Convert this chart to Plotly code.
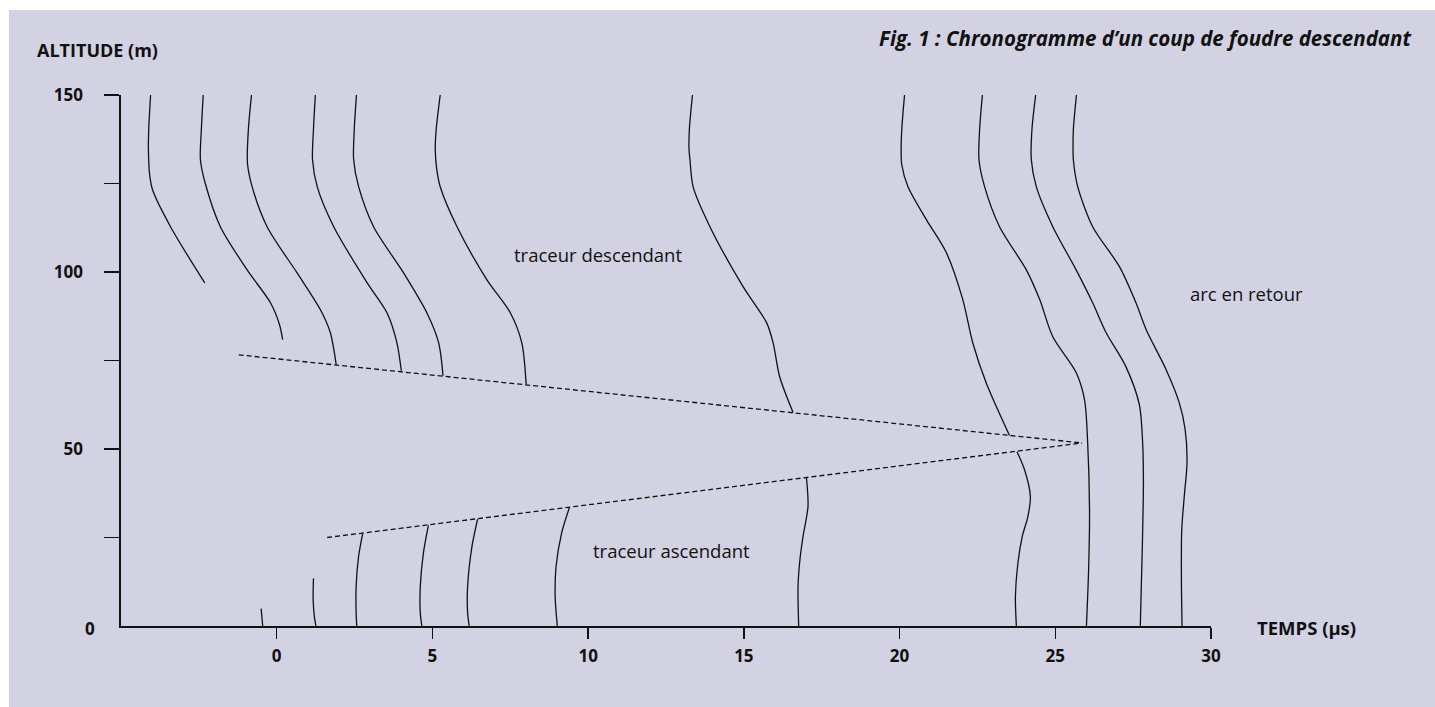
import plotly.graph_objects as go

# ---------------- data (time in µs, altitude in m) ----------------
# downward leader steps (traceur descendant)
d1_t = [-4.05, -4.11, -4.12, -4.08, -3.99, -3.41, -2.31]
d1_h = [150, 140.2, 134.6, 127.5, 123.3, 112.8, 96.9]
d2_t = [-2.36, -2.42, -2.45, -2.30, -1.81, -0.95, -0.20, 0.09, 0.19]
d2_h = [150, 140.2, 131.7, 125.2, 112.8, 100.6, 91.3, 85.1, 80.9]
d3_t = [-0.81, -0.91, -0.94, -0.79, -0.31, 0.65, 1.40, 1.72, 1.91]
d3_h = [150, 140.2, 130.8, 124.1, 112.8, 99.8, 89.4, 82.9, 73.8]
d4_t = [1.24, 1.18, 1.15, 1.30, 1.83, 2.90, 3.54, 3.86, 4.00]
d4_h = [150, 140.2, 131.7, 124.1, 112.8, 97.0, 88.5, 80.0, 72.1]
d5_t = [2.56, 2.49, 2.47, 2.63, 3.11, 4.07, 4.82, 5.20, 5.34]
d5_h = [150, 140.2, 131.7, 124.1, 112.8, 99.8, 88.5, 80.0, 70.7]
d6_t = [5.25, 5.12, 5.09, 5.14, 5.25, 5.79, 6.75, 7.50, 7.87, 8.01]
d6_h = [150, 140.2, 134.6, 128.9, 124.1, 112.8, 97.8, 88.5, 80.0, 68.2]
d7_t = [13.35, 13.25, 13.24, 13.27, 13.37, 13.91, 14.98, 15.73, 15.94, 16.15, 16.58]
d7_h = [150, 140.2, 134.6, 131.7, 124.1, 112.8, 95.8, 85.7, 80.0, 70.4, 60.3]
d8_t = [20.16, 20.07, 20.05, 20.07, 20.27, 20.86, 21.50, 22.03, 22.35, 22.78, 23.53]
d8_h = [150, 140.2, 134.6, 130.3, 124.1, 114.8, 105.5, 92.2, 80.0, 68.7, 53.8]

# return strokes (arc en retour)
r1_t = [22.66, 22.57, 22.55, 22.73, 23.21, 24.07, 24.50, 24.92, 25.67, 25.94, 26.04, 26.10, 26.07, 26.00]
r1_h = [150, 140.2, 131.7, 124.1, 112.8, 100.6, 92.2, 81.7, 71.6, 63.9, 51.8, 32.0, 15.9, 0]
r2_t = [24.37, 24.25, 24.23, 24.39, 24.92, 25.67, 26.20, 26.63, 27.27, 27.70, 27.80, 27.83, 27.80, 27.73]
r2_h = [150, 140.2, 131.7, 124.1, 112.8, 100.6, 91.3, 82.9, 73.2, 62.5, 52.6, 41.3, 24.4, 0]
r3_t = [25.68, 25.58, 25.57, 25.58, 25.72, 26.20, 27.06, 27.59, 27.92, 28.56, 28.98, 29.17, 29.23,
        29.14, 29.06, 29.05, 29.07]
r3_h = [150, 140.2, 134.6, 131.7, 124.1, 112.8, 101.5, 91.3, 83.7, 72.4, 63.1, 55.5, 46.1,
        36.5, 27.2, 13.1, 0]

# upward leader steps (traceur ascendant)
u1_t = [-0.50, -0.45]
u1_h = [4.9, 0]
u2_t = [1.18, 1.17, 1.21, 1.26]
u2_h = [13.4, 7.4, 2.6, 0]
u3_t = [2.76, 2.63, 2.55, 2.55, 2.57]
u3_h = [26.1, 19.7, 11.2, 3.7, 0]
u4_t = [4.87, 4.71, 4.61, 4.61, 4.66]
u4_h = [28.4, 20.6, 11.2, 3.7, 0]
u5_t = [6.45, 6.27, 6.13, 6.13, 6.18]
u5_h = [30.2, 22.5, 11.2, 3.7, 0]
u6_t = [9.40, 9.15, 8.97, 8.94, 9.01]
u6_h = [33.5, 26.3, 16.8, 8.4, 0]
u7_t = [17.01, 17.06, 16.90, 16.80, 16.74, 16.76]
u7_h = [41.8, 33.8, 25.3, 18.7, 11.2, 0]
u8_t = [23.77, 24.01, 24.20, 24.12, 23.94, 23.80, 23.72, 23.75]
u8_h = [49.2, 44.2, 36.6, 30.9, 25.3, 17.8, 8.4, 0]

# dashed envelopes
env_down_t = [-1.22, 25.86]
env_down_h = [76.6, 51.7]
env_up_t = [1.62, 25.86]
env_up_h = [25.0, 51.7]

x_tickvals = [0, 5, 10, 15, 20, 25, 30]
y_tickvals = [25, 50, 75, 100, 125, 150]
y_ticktext = ["", "50", "", "100", "", "150"]

# ---------------- figure ----------------
BG = "#d2d2e3"
INK = "#111111"
FONT = "Open Sans"

fig = go.Figure()

solid = [(d1_t, d1_h), (d2_t, d2_h), (d3_t, d3_h), (d4_t, d4_h), (d5_t, d5_h),
         (d6_t, d6_h), (d7_t, d7_h), (d8_t, d8_h),
         (r1_t, r1_h), (r2_t, r2_h), (r3_t, r3_h),
         (u1_t, u1_h), (u2_t, u2_h), (u3_t, u3_h), (u4_t, u4_h), (u5_t, u5_h),
         (u6_t, u6_h), (u7_t, u7_h), (u8_t, u8_h)]
for t, h in solid:
    fig.add_trace(go.Scatter(x=t, y=h, mode="lines",
                             line=dict(color=INK, width=1.3, shape="spline", smoothing=0.8),
                             hoverinfo="skip", showlegend=False))

for t, h in [(env_down_t, env_down_h), (env_up_t, env_up_h)]:
    fig.add_trace(go.Scatter(x=t, y=h, mode="lines",
                             line=dict(color=INK, width=1.3, dash="5px,3px"),
                             hoverinfo="skip", showlegend=False))

# page body margin is removed by the post script below
OFF = 0
W, H = 1435, 707
L, T = 121, 95
PW, PH = 1090, 531
R = W - L - PW
B = H - T - PH


def px(x):
    """screen x -> paper fraction"""
    return (x - OFF - L) / PW


def py(y):
    """screen y -> paper fraction"""
    return (T + PH - (y - OFF)) / PH


fig.update_layout(
    width=W, height=H,
    margin=dict(l=L, r=R, t=T, b=B, pad=0),
    paper_bgcolor="white",
    plot_bgcolor="rgba(0,0,0,0)",
    showlegend=False,
    font=dict(family=FONT, color=INK),
    xaxis=dict(range=[-5, 30], showgrid=False, zeroline=False, showline=True,
               linecolor=INK, linewidth=1.6, ticks="outside", ticklen=11, tickwidth=1.3,
               tickcolor=INK, tickvals=x_tickvals,
               tickfont=dict(family=FONT, size=17, color=INK, weight="bold"),
               ticklabelstandoff=3, fixedrange=True),
    yaxis=dict(range=[0, 150], showgrid=False, zeroline=False, showline=True,
               linecolor=INK, linewidth=1.6, ticks="outside", ticklen=15, tickwidth=1.3,
               tickcolor=INK, tickvals=y_tickvals, ticktext=y_ticktext,
               tickfont=dict(family=FONT, size=17, color=INK, weight="bold"),
               ticklabelstandoff=18, fixedrange=True),
    shapes=[dict(type="rect", xref="paper", yref="paper", layer="below",
                 x0=px(9), x1=px(1445), y0=py(720), y1=py(10),
                 fillcolor=BG, line=dict(width=0))],
)

ann = [
    dict(text="<b>ALTITUDE (m)</b>", x=px(35), y=py(50), xanchor="left", yanchor="middle",
         font=dict(size=18)),
    dict(text="<b><i>Fig. 1 : Chronogramme d’un coup de foudre descendant</i></b>",
         x=px(1413), y=py(38), xanchor="right", yanchor="middle", font=dict(size=20.5)),
    dict(text="<b>TEMPS (µs)</b>", x=px(1255), y=py(627), xanchor="left", yanchor="middle",
         font=dict(size=18.5)),
    dict(text="<b>0</b>", x=px(97), y=py(628), xanchor="right", yanchor="middle",
         font=dict(size=17)),
    dict(text="traceur descendant", x=px(598), y=py(254), xanchor="center", yanchor="middle",
         font=dict(size=18.5)),
    dict(text="traceur ascendant", x=px(672), y=py(550), xanchor="center", yanchor="middle",
         font=dict(size=18.5)),
    dict(text="arc en retour", x=px(1247), y=py(293), xanchor="center", yanchor="middle",
         font=dict(size=18.5)),
]
for a in ann:
    a.update(xref="paper", yref="paper", showarrow=False)
    a["font"] = dict(family=FONT, color=INK, **a["font"])
fig.update_layout(annotations=ann)

fig.write_html(
    "out.html",
    config={"displayModeBar": False, "staticPlot": True},
    post_script="document.body.style.margin='0';document.body.style.overflow='hidden';",
)
